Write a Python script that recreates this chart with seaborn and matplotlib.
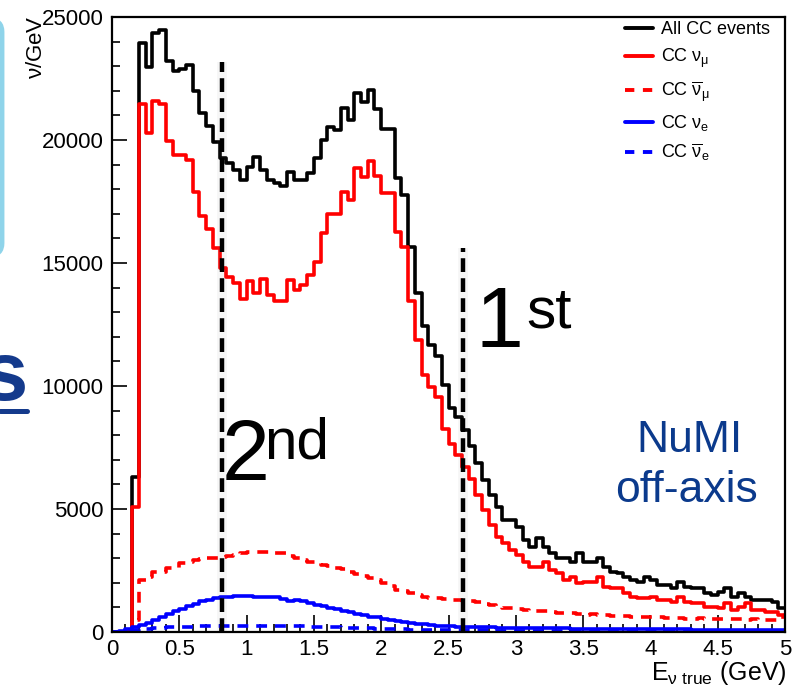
import numpy as np
import pandas as pd
import matplotlib as mpl
mpl.use('Agg')
import matplotlib.pyplot as plt
from matplotlib.lines import Line2D
from matplotlib.patches import FancyBboxPatch
from matplotlib.transforms import IdentityTransform
from matplotlib.ticker import MultipleLocator, FormatStrFormatter
import seaborn as sns

################################################################################
# DATA (100 bins of 0.05 GeV)
################################################################################

bin_edges = [round(0.05 * i, 2) for i in range(101)]
bin_centers = [round(0.05 * i + 0.025, 3) for i in range(100)]

all_cc = [
    0, 0, 0, 6300, 23950, 22950, 24350, 24480, 23200, 22800,
    22900, 23050, 22000, 21100, 20550, 19900, 19250, 19050, 18800, 18380,
    18900, 19300, 18800, 18380, 18250, 18150, 18700, 18370, 18370, 18640,
    19250, 20000, 20540, 20400, 21300, 20800, 21900, 21550, 22050, 21250,
    20450, 20450, 18450, 17750, 15650, 13800, 12420, 11650, 11200, 10040,
    9100, 8750, 8210, 7550, 6880, 6180, 5570, 5090, 4550, 4550,
    4280, 3740, 3470, 3810, 3470, 3200, 2990, 2990, 2860, 3200,
    2860, 2860, 2990, 2660, 2450, 2380, 2250, 2110, 2050, 2250,
    2110, 1910, 1910, 1780, 2050, 1840, 1780, 1780, 1570, 1500,
    1640, 1780, 1440, 1570, 1440, 1300, 1300, 1300, 1230, 960,
]

cc_numu = [
    0, 0, 0, 5100, 21450, 20300, 21600, 21450, 19950, 19400,
    19400, 19200, 17900, 16900, 16400, 15600, 14800, 14450, 14200, 13550,
    14250, 13800, 14350, 13700, 13450, 13450, 14300, 13900, 14100, 14500,
    15050, 16200, 17000, 17000, 17900, 17550, 18850, 18500, 19150, 18550,
    17850, 17850, 16250, 15650, 13450, 11850, 10450, 9950, 9550, 8250,
    7650, 7200, 6700, 6200, 5570, 4960, 4350, 3870, 3600, 3330,
    3130, 2860, 2660, 2660, 2860, 2520, 2380, 2110, 2250, 1980,
    2050, 2050, 2250, 1840, 1780, 1780, 1570, 1440, 1370, 1370,
    1440, 1300, 1300, 1230, 1440, 1230, 1170, 1170, 1030, 1030,
    960, 1170, 890, 1030, 1170, 890, 890, 830, 830, 690,
]

cc_numubar = [
    0, 0, 0, 500, 2110, 2250, 2450, 2450, 2590, 2590,
    2790, 2860, 2930, 2960, 2990, 2990, 3060, 3100, 3130, 3230,
    3270, 3270, 3270, 3240, 3200, 3200, 3100, 2990, 2930, 2860,
    2830, 2720, 2680, 2590, 2550, 2420, 2350, 2280, 2200, 2110,
    2000, 1850, 1710, 1650, 1600, 1500, 1420, 1400, 1380, 1330,
    1300, 1290, 1260, 1250, 1220, 1150, 1100, 1000, 960, 980,
    940, 880, 850, 840, 860, 800, 780, 770, 760, 740,
    700, 720, 690, 680, 640, 660, 640, 620, 630, 600,
    610, 590, 560, 570, 560, 540, 530, 550, 520, 530,
    510, 530, 510, 520, 490, 510, 470, 480, 470, 600,
]

cc_nue = [
    10, 60, 130, 200, 280, 380, 480, 600, 720, 850,
    950, 1060, 1150, 1250, 1320, 1380, 1420, 1440, 1470, 1480,
    1460, 1440, 1420, 1440, 1420, 1330, 1260, 1290, 1270, 1180,
    1100, 1050, 990, 930, 860, 800, 730, 680, 630, 590,
    540, 500, 460, 420, 380, 340, 310, 280, 250, 240,
    230, 220, 210, 200, 195, 190, 185, 180, 175, 170,
    165, 160, 160, 155, 150, 150, 145, 145, 140, 140,
    135, 135, 130, 130, 125, 125, 120, 120, 118, 115,
    112, 110, 108, 106, 104, 102, 100, 98, 96, 95,
    94, 92, 90, 89, 88, 87, 86, 85, 84, 83,
]

cc_nuebar = [
    0, 15, 40, 75, 105, 135, 160, 180, 190, 200,
    210, 220, 230, 235, 240, 245, 250, 255, 255, 260,
    260, 255, 255, 250, 250, 245, 240, 235, 225, 220,
    210, 200, 195, 185, 175, 165, 160, 150, 145, 135,
    130, 120, 115, 110, 100, 95, 90, 85, 80, 78,
    75, 72, 70, 67, 65, 62, 60, 58, 56, 55,
    53, 52, 51, 50, 49, 48, 47, 46, 45, 45,
    44, 43, 42, 41, 40, 40, 39, 38, 37, 37,
    36, 36, 35, 35, 34, 34, 33, 33, 32, 32,
    32, 31, 31, 31, 30, 30, 30, 30, 30, 30,
]

series_labels = ['All CC events', r'CC $\nu_{\mu}$', r'CC $\overline{\nu}_{\mu}$',
                 r'CC $\nu_{e}$', r'CC $\overline{\nu}_{e}$']

################################################################################
# STYLE
################################################################################

sns.set_style('ticks')
plt.rcParams['font.family'] = ['Liberation Sans', 'DejaVu Sans']
plt.rcParams['mathtext.fontset'] = 'custom'
plt.rcParams['mathtext.rm'] = 'Liberation Sans'
plt.rcParams['mathtext.it'] = 'Liberation Sans'
plt.rcParams['mathtext.bf'] = 'Liberation Sans:bold'
for key in ['text.color', 'axes.labelcolor', 'xtick.color', 'ytick.color',
            'axes.edgecolor']:
    plt.rcParams[key] = 'black'

W, H = 794, 687
fig = plt.figure(figsize=(W / 100.0, H / 100.0), dpi=100)
fig.patch.set_facecolor('white')
ax = fig.add_axes([112.0 / W, 1 - 632.0 / H, 673.0 / W, 615.0 / H])

dash_hist = (0, (3.0, 2.2))
series = [
    (all_cc, 'black', '-'),
    (cc_numu, '#ff0000', '-'),
    (cc_numubar, '#ff0000', dash_hist),
    (cc_nue, '#0000ff', '-'),
    (cc_nuebar, '#0000ff', dash_hist),
]

for values, color, ls in series:
    df = pd.DataFrame({'energy': bin_centers, 'events': values})
    sns.histplot(data=df, x='energy', weights='events', bins=bin_edges,
                 element='step', fill=False, color=color, linewidth=2.6,
                 linestyle=ls, ax=ax)

ax.set_xlim(0, 5)
ax.set_ylim(0, 25000)
ax.set_xlabel('')
ax.set_ylabel('')

# oscillation maximum markers
for xpos, ytop in [(0.815, 23170), (2.61, 15600)]:
    ax.plot([xpos, xpos], [0, ytop], color='0.5', lw=7, alpha=0.07,
            solid_capstyle='butt')
    ax.plot([xpos, xpos], [0, ytop], color='black', lw=3.2,
            dashes=(3.1, 1.4), dash_capstyle='butt')

ax.text(2.704, 11585, '1', fontsize=62, ha='left', va='baseline')
ax.text(3.076, 12398, 'st', fontsize=42, ha='left', va='baseline')
ax.text(0.817, 6179, '2', fontsize=62, ha='left', va='baseline')
ax.text(1.129, 7073, 'nd', fontsize=42, ha='left', va='baseline')

numi_blue = '#0b3a8c'
ax.text(4.294, 7317, 'NuMI', fontsize=32, color=numi_blue, ha='center', va='baseline')
ax.text(4.27, 5285, 'off-axis', fontsize=32, color=numi_blue, ha='center', va='baseline')

# axes cosmetics (ROOT-like)
for sp in ax.spines.values():
    sp.set_linewidth(1.6)
    sp.set_visible(True)
ax.xaxis.set_major_locator(MultipleLocator(0.5))
ax.xaxis.set_minor_locator(MultipleLocator(0.1))
ax.xaxis.set_major_formatter(FormatStrFormatter('%g'))
ax.yaxis.set_major_locator(MultipleLocator(5000))
ax.yaxis.set_minor_locator(MultipleLocator(1000))
ax.tick_params(axis='x', which='major', direction='in', length=12, width=1.2,
               labelsize=16, pad=5)
ax.tick_params(axis='x', which='minor', direction='in', length=5.5, width=1.2)
ax.tick_params(axis='y', which='major', direction='in', length=11, width=1.2,
               labelsize=16, pad=6)
ax.tick_params(axis='y', which='minor', direction='in', length=6, width=1.2)

# legend
handles = [Line2D([], [], color=c, lw=2.8, linestyle=(0, (2.4, 2.2)) if ls != '-' else '-')
           for _, c, ls in series]
ax.legend(handles, series_labels, loc='upper left',
          bbox_to_anchor=(625.0 / W, 1 - 21.0 / H), bbox_transform=fig.transFigure,
          frameon=False, fontsize=13, handlelength=1.55, handletextpad=0.45,
          labelspacing=0.5, borderpad=0, borderaxespad=0)

# axis titles
fig.text(787.0 / W, 1 - 680.0 / H, r'$\mathrm{E}_{\nu\ \mathrm{true}}$ (GeV)',
         ha='right', va='baseline', fontsize=18)
fig.text(36.0 / W, 1 - 15.0 / H, r'$\nu$/GeV', rotation=90, ha='center',
         va='top', fontsize=16)

# pieces of the slide around the plot
px = IdentityTransform()
fig.add_artist(FancyBboxPatch((-400, H - 255), 402, 235,
                              boxstyle='round,pad=0,rounding_size=12',
                              transform=px, fill=False, ec='#8fd4ea', lw=3.5))
fig.text(27, H - 400, 's', fontsize=60, fontweight='bold', color='#143a8c',
         ha='right', va='baseline', transform=px)
fig.add_artist(Line2D([0, 27], [H - 411, H - 411], color='#143a8c', lw=3.6,
                      transform=px))

fig.savefig('out.png', dpi=100, facecolor='white')
